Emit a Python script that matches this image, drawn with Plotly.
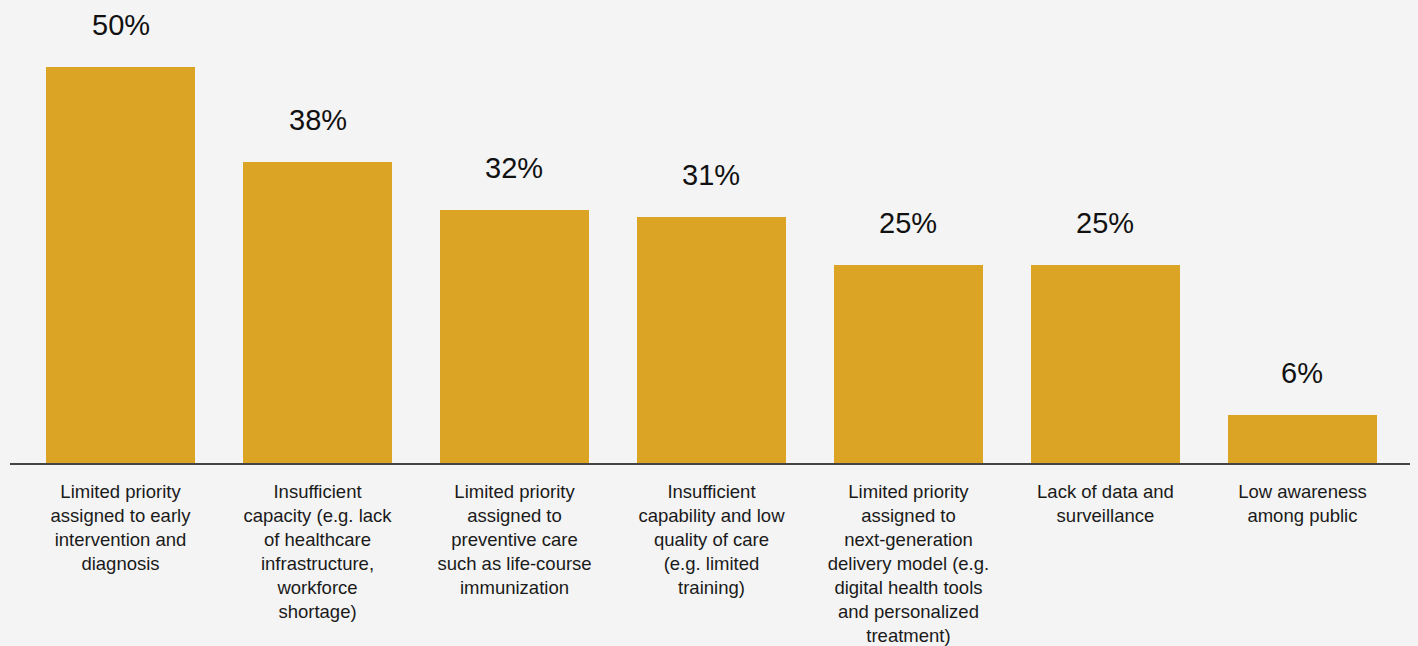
import plotly.graph_objects as go

categories = [
    "Limited priority<br>assigned to early<br>intervention and<br>diagnosis",
    "Insufficient<br>capacity (e.g. lack<br>of healthcare<br>infrastructure,<br>workforce<br>shortage)",
    "Limited priority<br>assigned to<br>preventive care<br>such as life-course<br>immunization",
    "Insufficient<br>capability and low<br>quality of care<br>(e.g. limited<br>training)",
    "Limited priority<br>assigned to<br>next-generation<br>delivery model (e.g.<br>digital health tools<br>and personalized<br>treatment)",
    "Lack of data and<br>surveillance",
    "Low awareness<br>among public",
]
values = [50, 38, 32, 31, 25, 25, 6]
value_labels = [f"{v}%" for v in values]

BAR = "#DCA424"
BG = "#F4F4F4"

fig = go.Figure()
fig.add_trace(go.Bar(
    x=list(range(len(categories))),
    y=values,
    width=0.756,
    marker=dict(color=BAR, line=dict(width=0)),
    hoverinfo="skip",
))

for i, (v, t) in enumerate(zip(values, value_labels)):
    fig.add_annotation(
        x=i, y=v, xref="x", yref="y", text=t, showarrow=False,
        yanchor="middle", yshift=42,
        font=dict(family="Liberation Sans, Arial, sans-serif", size=29, color="#111111"),
    )

fig.update_layout(
    width=1418, height=646,
    margin=dict(l=10, r=8, t=0, b=183),
    paper_bgcolor=BG, plot_bgcolor=BG,
    showlegend=False,
    bargap=0,
    xaxis=dict(
        range=[-0.561, 6.546],
        automargin=False,
        tickmode="array",
        tickvals=list(range(len(categories))),
        ticktext=categories,
        showgrid=False, zeroline=False,
        showline=True, linecolor="#444444", linewidth=1.5,
        ticks="", ticklabelstandoff=11,
        tickfont=dict(family="Liberation Sans, Arial, sans-serif", size=18.5, color="#1a1a1a"),
    ),
    yaxis=dict(
        range=[0, 58.46],
        automargin=False,
        showgrid=False, zeroline=False, showline=False,
        showticklabels=False, ticks="",
    ),
)

fig.write_html("out.html")
